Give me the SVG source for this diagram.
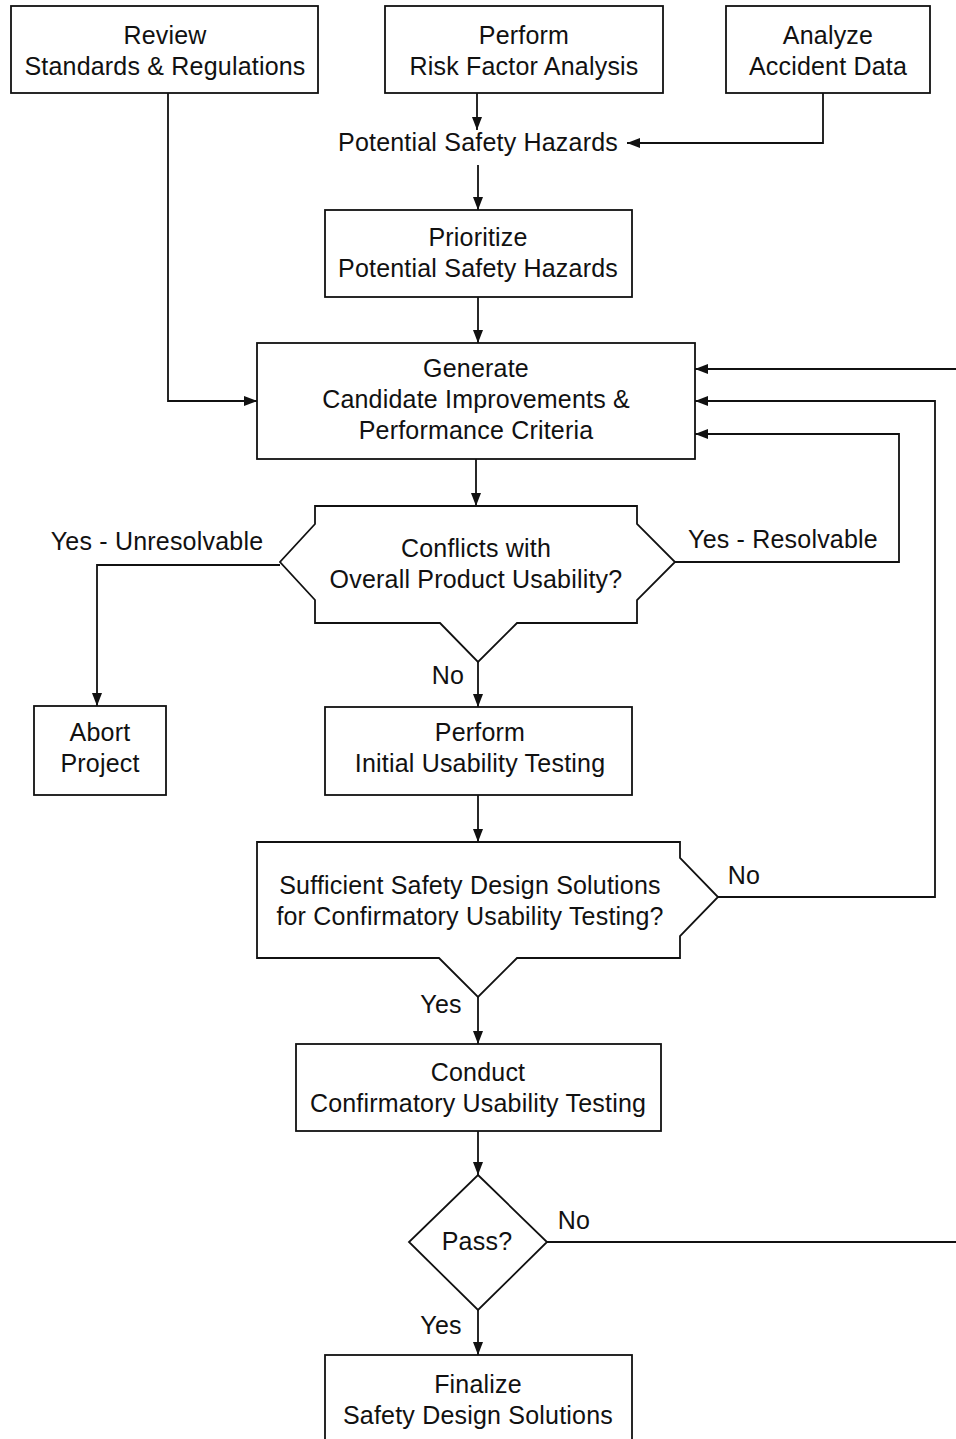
<svg xmlns="http://www.w3.org/2000/svg" width="956" height="1439" viewBox="0 0 956 1439">
<style>
  .box { fill: #ffffff; stroke: #111111; stroke-width: 1.8; }
  .conn { fill: none; stroke: #111111; stroke-width: 1.8; }
  .arr { marker-end: url(#ah); }
  text { font-family: "Liberation Sans", Arial, Helvetica, sans-serif; font-size: 25px; fill: #111111; text-anchor: middle; letter-spacing: 0.2px; }
</style>
<defs>
  <marker id="ah" markerUnits="userSpaceOnUse" markerWidth="13" markerHeight="10" refX="13" refY="5" orient="auto">
    <path d="M0,0 L13,5 L0,10 Z" fill="#111111"/>
  </marker>
</defs>
<rect width="956" height="1439" fill="#ffffff"/>

<g id="connectors">
  <path class="conn arr" d="M168,93 V401 H257"/>
  <path class="conn arr" d="M477,93 V130"/>
  <path class="conn arr" d="M823,93 V143 H627"/>
  <path class="conn arr" d="M478,165 V210"/>
  <path class="conn arr" d="M478,297 V343"/>
  <path class="conn arr" d="M476,459 V506"/>
  <path class="conn arr" d="M675,562 H899 V434 H695"/>
  <path class="conn arr" d="M280,565 H97 V706"/>
  <path class="conn arr" d="M478,662 V707"/>
  <path class="conn arr" d="M478,795 V842"/>
  <path class="conn arr" d="M718,897 H935 V401 H695"/>
  <path class="conn arr" d="M478,997 V1044"/>
  <path class="conn arr" d="M478,1131 V1175"/>
  <path class="conn arr" d="M547,1242 H962 V369 H695"/>
  <path class="conn arr" d="M478,1310 V1355"/>
  <text x="157" y="550">Yes - Unresolvable</text>
  <text x="783" y="548">Yes - Resolvable</text>
  <text x="448" y="684">No</text>
  <text x="744" y="884">No</text>
  <text x="441" y="1013">Yes</text>
  <text x="574" y="1229">No</text>
  <text x="441" y="1334">Yes</text>
</g>

<g id="review">
  <rect class="box" x="11" y="6" width="307" height="87"/>
  <text x="165" y="44">Review</text>
  <text x="165" y="75">Standards &amp; Regulations</text>
</g>
<g id="perform-risk">
  <rect class="box" x="385" y="6" width="278" height="87"/>
  <text x="524" y="44">Perform</text>
  <text x="524" y="75">Risk Factor Analysis</text>
</g>
<g id="analyze">
  <rect class="box" x="726" y="6" width="204" height="87"/>
  <text x="828" y="44">Analyze</text>
  <text x="828" y="75">Accident Data</text>
</g>
<g id="hazards">
  <text x="478" y="151">Potential Safety Hazards</text>
</g>
<g id="prioritize">
  <rect class="box" x="325" y="210" width="307" height="87"/>
  <text x="478" y="246">Prioritize</text>
  <text x="478" y="277">Potential Safety Hazards</text>
</g>
<g id="generate">
  <rect class="box" x="257" y="343" width="438" height="116"/>
  <text x="476" y="377">Generate</text>
  <text x="476" y="408">Candidate Improvements &amp;</text>
  <text x="476" y="439">Performance Criteria</text>
</g>
<g id="conflicts">
  <path class="box" d="M315,506 H637 V524 L675,562 L637,600 V623 H517 L478,662 L440,623 H315 V600 L280,562 L315,524 Z"/>
  <text x="476" y="557">Conflicts with</text>
  <text x="476" y="588">Overall Product Usability?</text>
</g>
<g id="abort">
  <rect class="box" x="34" y="706" width="132" height="89"/>
  <text x="100" y="741">Abort</text>
  <text x="100" y="772">Project</text>
</g>
<g id="initial-testing">
  <rect class="box" x="325" y="707" width="307" height="88"/>
  <text x="480" y="741">Perform</text>
  <text x="480" y="772">Initial Usability Testing</text>
</g>
<g id="sufficient">
  <path class="box" d="M257,842 H680 V858 L718,897 L680,936 V958 H517 L478,997 L439,958 H257 Z"/>
  <text x="470" y="894">Sufficient Safety Design Solutions</text>
  <text x="470" y="925">for Confirmatory Usability Testing?</text>
</g>
<g id="conduct">
  <rect class="box" x="296" y="1044" width="365" height="87"/>
  <text x="478" y="1081">Conduct</text>
  <text x="478" y="1112">Confirmatory Usability Testing</text>
</g>
<g id="pass">
  <path class="box" d="M478,1175 L547,1242 L478,1310 L409,1242 Z"/>
  <text x="477" y="1250">Pass?</text>
</g>
<g id="finalize">
  <rect class="box" x="325" y="1355" width="307" height="88"/>
  <text x="478" y="1393">Finalize</text>
  <text x="478" y="1424">Safety Design Solutions</text>
</g>
</svg>
